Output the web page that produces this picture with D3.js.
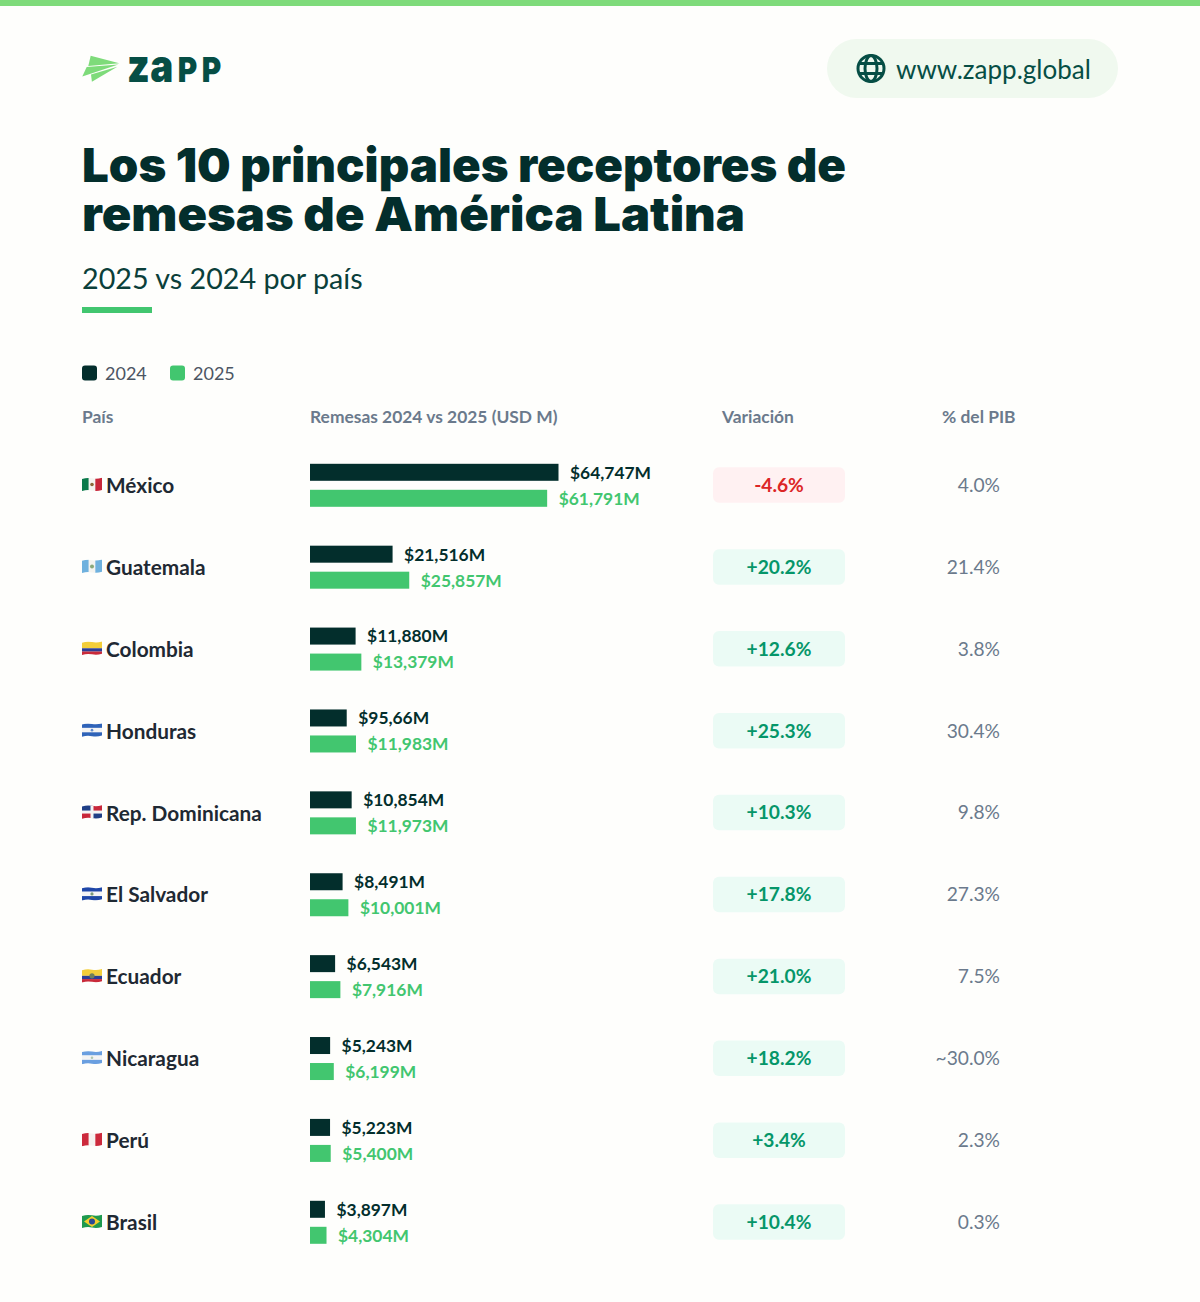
<!DOCTYPE html>
<html lang="es">
<head>
<meta charset="utf-8">
<title>Remesas América Latina</title>
<script src="https://cdn.jsdelivr.net/npm/d3@7/dist/d3.min.js"></script>
<style>
html,body{margin:0;padding:0;background:#fefefc;}
svg{display:block;}
text{font-family:Lato,sans-serif;}
</style>
</head>
<body>
<svg id="chart" width="1200" height="1302"></svg>
<script>
const countries = ["México","Guatemala","Colombia","Honduras","Rep. Dominicana","El Salvador","Ecuador","Nicaragua","Perú","Brasil"];
const values2024 = [64747,21516,11880,9566,10854,8491,6543,5243,5223,3897];
const values2025 = [61791,25857,13379,11983,11973,10001,7916,6199,5400,4304];
const labels2024 = ["$64,747M","$21,516M","$11,880M","$95,66M","$10,854M","$8,491M","$6,543M","$5,243M","$5,223M","$3,897M"];
const labels2025 = ["$61,791M","$25,857M","$13,379M","$11,983M","$11,973M","$10,001M","$7,916M","$6,199M","$5,400M","$4,304M"];
const variation = ["-4.6%","+20.2%","+12.6%","+25.3%","+10.3%","+17.8%","+21.0%","+18.2%","+3.4%","+10.4%"];
const gdpShare = ["4.0%","21.4%","3.8%","30.4%","9.8%","27.3%","7.5%","~30.0%","2.3%","0.3%"];
const flagCodes = ["mx","gt","co","hn","do","sv","ec","ni","pe","br"];
const columnHeads = ["País","Remesas 2024 vs 2025 (USD M)","Variación","% del PIB"];
const years = ["2024","2025"];

const DARK = "#032e2c", GREEN = "#42c66f", INK = "#1f2933", SLATE = "#6b7a8c";
const svg = d3.select("#chart");

// Wavy outline shared by all flags
svg.append("defs").append("clipPath").attr("id","flagWave").append("path")
  .attr("d","M-10,-5.6Q-5,-7.2 0,-6.2T10,-6.8L10,5.4Q5,7 0,6T-10,6.6Z");

// Top accent band
svg.append("rect").attr("width",1200).attr("height",6).attr("fill","#7edb7a");

// Logo mark: three folded wings of a paper plane
const logo = svg.append("g").attr("fill","#7edb7a");
logo.append("path").attr("d","M90.7,55.7L119.3,63.3L88.3,66Z");
logo.append("path").attr("d","M86.7,66.9L118.3,64.6L82.3,76.5Z");
logo.append("path").attr("d","M91,74.6L117.3,66.8L91.9,81.7Z");

// Wordmark: lowercase z/a with cap-height P so all letters share one height
const wordmark = svg.append("text").attr("transform","translate(127,82) scale(0.86,1)")
  .style("font-family","Inter").style("font-weight",900).attr("fill","#064e45");
[["z",0,45],["a",27,45],["P",59,34.5],["P",87,34.5]].forEach(([ch,lx,fs])=>{
  wordmark.append("tspan").attr("x",lx).attr("y",0).style("font-size",fs+"px").text(ch);
});

// Website pill with globe icon
svg.append("rect").attr("x",827).attr("y",39).attr("width",291).attr("height",59).attr("rx",29.5).attr("fill","#f0f9ef");
const globe = svg.append("g").attr("transform","translate(871,68.5)").attr("fill","none").attr("stroke","#064e45").attr("stroke-width",3);
globe.append("circle").attr("r",13);
globe.append("ellipse").attr("rx",6).attr("ry",13);
globe.append("path").attr("d","M-12,-5H12M-12,5H12");
svg.append("text").attr("x",896).attr("y",79).text("www.zapp.global")
  .style("font-size","26px").attr("fill","#064e45");

// Title block
[["Los 10 principales receptores de",182,764],["remesas de América Latina",231,663]].forEach(([t,y,w])=>{
  svg.append("text").attr("x",82).attr("y",y).text(t)
    .style("font-family","Inter").style("font-weight",900).style("font-size","47px")
    .attr("fill",DARK).attr("textLength",w).attr("lengthAdjust","spacingAndGlyphs");
});
svg.append("text").attr("x",82).attr("y",289).text("2025 vs 2024 por país")
  .style("font-size","28.7px").attr("fill","#0b3f3a");
svg.append("rect").attr("x",82).attr("y",307).attr("width",70).attr("height",6).attr("fill",GREEN);

// Legend
const legendX = d3.scalePoint().domain(years).range([82,170]);
years.forEach((yr,i)=>{
  svg.append("rect").attr("x",legendX(yr)).attr("y",365.5).attr("width",15).attr("height",15).attr("rx",3).attr("fill",i?GREEN:DARK);
  svg.append("text").attr("x",legendX(yr)+23).attr("y",379.5).text(yr).style("font-size","18px").attr("fill","#4b5563");
});

// Column headers
const headX = [82,310,722,942];
columnHeads.forEach((h,i)=>{
  svg.append("text").attr("x",headX[i]).attr("y",423).text(h)
    .style("font-size","17.4px").style("font-weight",700).attr("fill",SLATE);
});

const x = d3.scaleLinear().domain([0,64747]).range([310,558.5]);
const y = d3.scalePoint().domain(countries).range([485.3,1222.3]);

// Flags are built from stripes plus a small emblem
function stripes(g, cols, vertical){
  const n = cols.length;
  cols.forEach((c,i)=>{
    const r = g.append("rect").attr("fill",c);
    if(vertical) r.attr("x",-10+i*20/n).attr("y",-8).attr("width",20/n+.2).attr("height",16);
    else r.attr("x",-10).attr("y",-6.8+i*13.4/n).attr("width",20).attr("height",13.4/n+.2);
  });
}
const triband = g=>{
  g.append("rect").attr("x",-10).attr("y",-8).attr("width",20).attr("height",8).attr("fill","#f3ce3a");
  g.append("rect").attr("x",-10).attr("y",0).attr("width",20).attr("height",3.3).attr("fill","#2c3f97");
  g.append("rect").attr("x",-10).attr("y",3.25).attr("width",20).attr("height",5).attr("fill","#c92a3a");
};
const flagStyles = {
  mx:g=>{stripes(g,["#0b7a4b","#f4f4f0","#c8273a"],true);g.append("circle").attr("r",1.8).attr("fill","#8a6a3a");},
  gt:g=>{stripes(g,["#6fb1de","#f4f4f0","#6fb1de"],true);g.append("circle").attr("r",2).attr("fill","#8aa87a");},
  co:triband,
  hn:g=>{stripes(g,["#2f63b8","#f4f4f4","#2f63b8"],false);g.append("circle").attr("r",1.3).attr("fill","#5f8bd0");},
  do:g=>{g.append("rect").attr("x",-10).attr("y",-8).attr("width",10).attr("height",8).attr("fill","#1f3f86");
         g.append("rect").attr("x",0).attr("y",-8).attr("width",10).attr("height",8).attr("fill","#c8273a");
         g.append("rect").attr("x",-10).attr("y",0).attr("width",10).attr("height",8).attr("fill","#c8273a");
         g.append("rect").attr("x",0).attr("y",0).attr("width",10).attr("height",8).attr("fill","#1f3f86");
         g.append("rect").attr("x",-1.5).attr("y",-8).attr("width",3).attr("height",16).attr("fill","#f4f4f4");
         g.append("rect").attr("x",-10).attr("y",-1.5).attr("width",20).attr("height",3).attr("fill","#f4f4f4");},
  sv:g=>{stripes(g,["#1f47a8","#f4f4f4","#1f47a8"],false);g.append("circle").attr("r",1.6).attr("fill","#7a9a7a");},
  ec:g=>{triband(g);g.append("circle").attr("r",2.6).attr("fill","#6f7f5a");},
  ni:g=>{stripes(g,["#6a9fe0","#f4f4f4","#6a9fe0"],false);g.append("circle").attr("r",1.3).attr("fill","#b0c8b0");},
  pe:g=>{stripes(g,["#cc2a3c","#f6f2f0","#cc2a3c"],true);},
  br:g=>{g.append("rect").attr("x",-10).attr("y",-8).attr("width",20).attr("height",16).attr("fill","#1f9a4e");
         g.append("path").attr("d","M-8,0L0,-5.5L8,0L0,5.5Z").attr("fill","#f4cf2e");
         g.append("circle").attr("r",3).attr("fill","#2b4a94");}
};

const rows = svg.selectAll("g.row").data(countries).join("g").attr("class","row")
  .attr("transform",d=>`translate(0,${y(d)})`);

rows.each(function(d,i){
  const row = d3.select(this);
  const flag = row.append("g").attr("transform","translate(92,-0.8)").attr("clip-path","url(#flagWave)");
  flagStyles[flagCodes[i]](flag);

  row.append("text").attr("x",106).attr("y",7.7).text(d)
    .style("font-size","20.8px").style("font-weight",700).attr("fill",INK);

  // Paired bars with their value labels
  row.append("rect").attr("x",x(0)).attr("y",-21.5).attr("width",x(values2024[i])-x(0)).attr("height",17).attr("fill",DARK);
  row.append("rect").attr("x",x(0)).attr("y",4.5).attr("width",x(values2025[i])-x(0)).attr("height",17).attr("fill",GREEN);
  row.append("text").attr("x",x(values2024[i])+11.5).attr("y",-6.6).text(labels2024[i])
    .style("font-size","17.4px").style("font-weight",700).attr("fill",DARK);
  row.append("text").attr("x",x(values2025[i])+11.5).attr("y",19.4).text(labels2025[i])
    .style("font-size","17.4px").style("font-weight",700).attr("fill",GREEN);

  // Variation badge
  const neg = variation[i].startsWith("-");
  row.append("rect").attr("x",713).attr("y",-18).attr("width",132).attr("height",35.5).attr("rx",6)
    .attr("fill",neg?"#fff1f2":"#ebfbf5");
  row.append("text").attr("x",779).attr("y",6.6).attr("text-anchor","middle").text(variation[i])
    .style("font-size","19.2px").style("font-weight",700).attr("fill",neg?"#dc2626":"#059669");

  // Share of GDP
  row.append("text").attr("x",1000).attr("y",6.6).attr("text-anchor","end").text(gdpShare[i])
    .style("font-size","19.2px").attr("fill",SLATE);
});
</script>
</body>
</html>
